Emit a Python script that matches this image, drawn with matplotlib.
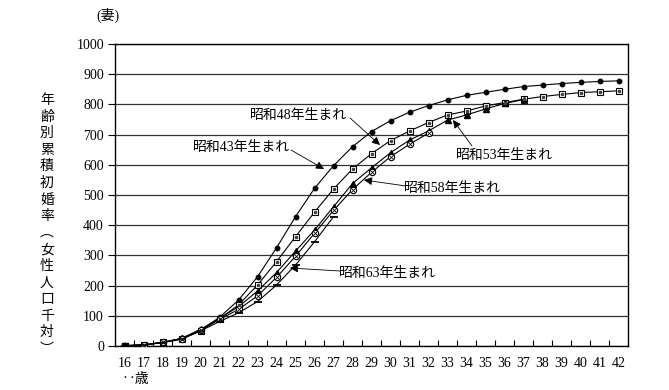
import matplotlib
matplotlib.use("Agg")
import matplotlib.pyplot as plt

plt.rcParams['font.family'] = ['Liberation Serif', 'Noto Sans CJK JP']

ages = list(range(16, 43))
tick_labels = [str(a) for a in ages]
yticks = list(range(0, 1001, 100))

s43 = [1, 4, 12, 25, 51, 95, 152, 229, 325, 428, 522, 597, 660, 710, 746, 774,
       796, 815, 830, 840, 850, 859, 864, 869, 873, 876, 878]
s48 = [1, 4, 12, 24, 50, 90, 136, 202, 279, 362, 443, 520, 586, 637, 680, 712,
       740, 765, 778, 795, 806, 817, 826, 833, 839, 842, 845]
s53 = [1, 3, 12, 25, 55, 92, 130, 182, 243, 314, 384, 461, 538, 590, 640, 682,
       712, 748, 765, 785, 803, 816]
s58 = [1, 3, 12, 24, 54, 88, 121, 166, 227, 297, 373, 449, 518, 575, 627, 668, 705]
s63 = [1, 3, 11, 22, 50, 81, 110, 147, 202, 268, 345, 428]

labels = ['昭和43年生まれ', '昭和48年生まれ', '昭和53年生まれ', '昭和58年生まれ', '昭和63年生まれ']

fig = plt.figure(figsize=(6.69, 3.90), dpi=100)
ax = fig.add_axes([115/669, 1-346/390, 513/669, 302/390])

lw = 0.8
ax.plot(ages[:len(s43)], s43, color='black', lw=lw, marker='o', ms=3.2, mfc='black', mec='black', zorder=5)
ax.plot(ages[:len(s48)], s48, color='black', lw=lw, marker='s', ms=4.5, mfc='white', mec='black', mew=0.8, zorder=5)
ax.plot(ages[:len(s48)], s48, ls='none', marker='s', ms=1.4, mfc='#444444', mec='#444444', zorder=6)
ax.plot(ages[:len(s53)], s53, color='black', lw=lw, marker='^', ms=4.5, mfc='black', mec='black', zorder=5)
ax.plot(ages[:len(s58)], s58, color='black', lw=lw, marker='o', ms=4.5, mfc='white', mec='black', mew=0.8, zorder=5)
ax.plot(ages[:len(s58)], s58, ls='none', marker='x', ms=2.5, mec='black', mew=0.6, zorder=6)
ax.plot(ages[:len(s63)], s63, color='black', lw=lw, marker='_', ms=6, mec='black', mew=1.3, zorder=5)
ax.plot([16], [1], ls='none', marker='s', ms=5, color='black', zorder=7)

ax.set_xlim(15.5, 42.5)
ax.set_ylim(0, 1000)
ax.set_yticks(yticks)
ax.set_yticklabels([str(v) for v in yticks], fontsize=10)
ax.set_xticks(ages)
ax.set_xticklabels(tick_labels, fontsize=10)
ax.set_xticks([a + 0.5 for a in ages[:-1]], minor=True)
ax.tick_params(axis='x', which='major', length=0, pad=8)
ax.tick_params(axis='x', which='minor', direction='in', length=4, width=0.8)
ax.tick_params(axis='y', direction='out', length=5, width=0.8, pad=3)
ax.grid(axis='y', color='#333333', lw=0.9)
ax.set_axisbelow(True)
for sp in ax.spines.values():
    sp.set_linewidth(1.0)
    sp.set_color('black')

arrow = dict(arrowstyle='-|>', color='black', lw=0.6, mutation_scale=12,
             shrinkA=0, shrinkB=0)
# annotations in pixel coordinates of figure converted
def fig_xy(px, py):
    return (px/669, 1 - py/390)

ann = [
    (labels[1], (380, 145), (299, 116), (350, 118)),
    (labels[0], (324, 169), (242, 148), (291, 150)),
    (labels[2], (453, 120), (504, 156), (472, 146)),
    (labels[3], (364, 180), (452, 188), (406, 186)),
    (labels[4], (290, 268), (387, 273), (340, 271)),
]
for text, tip, tpos, tail in ann:
    fig.text(*fig_xy(*tpos), text, fontsize=10, ha='center', va='center')
    ax.annotate('', xy=fig_xy(*tip), xycoords='figure fraction',
                xytext=fig_xy(*tail), textcoords='figure fraction',
                arrowprops=arrow)

ylabel = '年齢別累積初婚率︵女性人口千対︶'
for i, ch in enumerate(ylabel):
    fig.text(47/669, 1 - (100 + i*16.6)/390, ch, fontsize=10,
             ha='center', va='center', family=['Noto Sans CJK JP'])

fig.text(108/669, 1 - 15/390, '(妻)', fontsize=10, ha='center', va='center')
fig.text(122/669, 1 - 379/390, '‥歳', fontsize=10, ha='left', va='center',
         family=['Noto Sans CJK JP'])

fig.savefig('out.png', dpi=100)
